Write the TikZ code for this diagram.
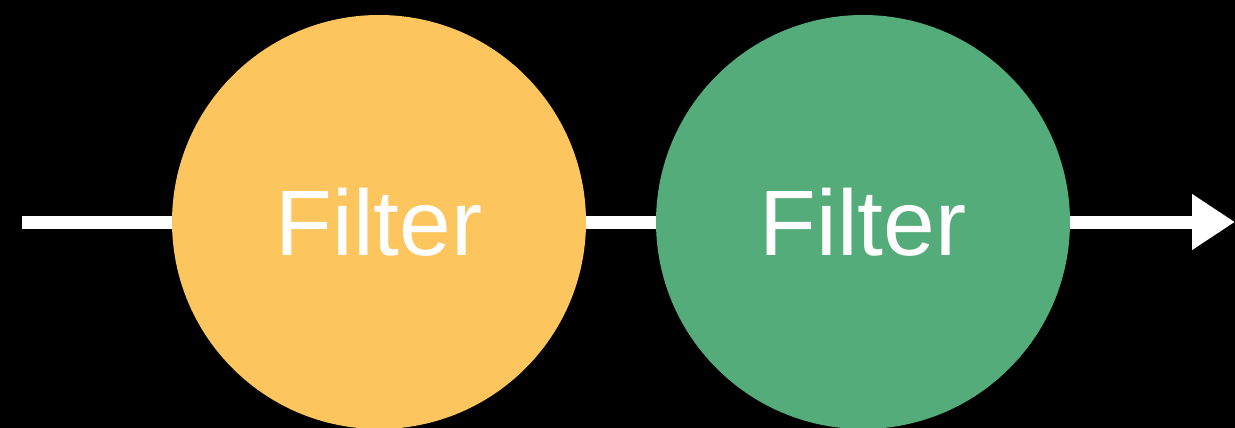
\documentclass[tikz,border=0pt]{standalone}
\usepackage{fontspec}
\setmainfont{Liberation Sans}
\usetikzlibrary{arrows.meta}
\definecolor{filteryellow}{RGB}{253,197,94}
\definecolor{filtergreen}{RGB}{85,172,123}
\begin{document}
\begin{tikzpicture}[x=1pt,y=-1pt,
  stage/.style={circle, minimum size=414pt, inner sep=0pt, text=white,
    font=\fontsize{93}{93}\selectfont},
  flow/.style={draw=white, line width=13pt, line cap=butt}]
  % black canvas
  \fill[black] (0,0) rectangle (1235,428);
  \useasboundingbox (0,0) rectangle (1235,428);
  % the two filter stages
  \node[stage, fill=filteryellow] (f1) at (379,222) {Filter};
  \node[stage, fill=filtergreen] (f2) at (863,222) {Filter};
  % pipeline ends
  \coordinate (in) at (22,222);
  \coordinate (out) at (1235,222);
  % connectors
  \draw[flow] (in) -- (f1.west);
  \draw[flow] (f1.east) -- (f2.west);
  \draw[flow, -{Triangle[length=43pt, width=53pt]}] (f2.east) -- (out);
\end{tikzpicture}
\end{document}
